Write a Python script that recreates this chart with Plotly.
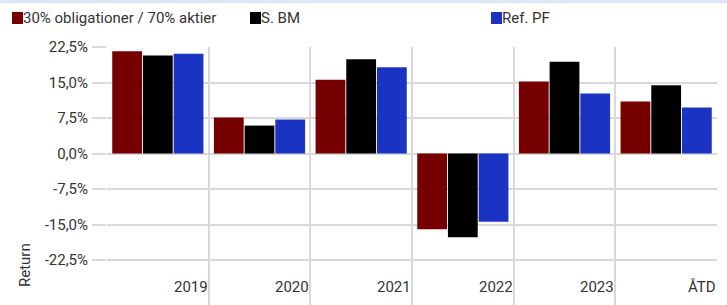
import plotly.graph_objects as go

categories = ["2019", "2020", "2021", "2022", "2023", "ÅTD"]
series_names = ["30% obligationer / 70% aktier", "S. BM", "Ref. PF"]
mix_30_70 = [21.6, 7.6, 15.6, -16.0, 15.2, 11.0]
s_bm = [20.7, 5.9, 19.9, -17.7, 19.4, 14.4]
ref_pf = [21.1, 7.2, 18.2, -14.4, 12.7, 9.7]
series_values = [mix_30_70, s_bm, ref_pf]
colors = ["#760000", "#000000", "#1a33c2"]
y_ticks = [22.5, 15.0, 7.5, 0.0, -7.5, -15.0, -22.5]
y_tick_labels = ["22,5%", "15,0%", "7,5%", "0,0%", "-7,5%", "-15,0%", "-22,5%"]

FONT = "Roboto, DejaVu Sans Condensed, sans-serif"
FS = 15
TXT = "#333333"
GRID = "#d9d9d9"

W, H = 727, 305
L, R, T, B = 107, 10, 47, 0
pw = W - L - R
ph = H - T - B


def py(pix):
    """pixel row (from top of page) -> paper y"""
    return (H - B - pix) / ph


def px(pix):
    """pixel column -> paper x"""
    return (pix - L) / pw


xs = list(range(len(categories)))
fig = go.Figure()
for name, vals, col in zip(series_names, series_values, colors):
    fig.add_trace(go.Bar(x=xs, y=vals, name=name, marker=dict(color=col, line=dict(width=0)),
                         showlegend=False, hoverinfo="skip"))

px_per = (260 - 47) / 45.0
y_top = 22.5
y_bot = y_top - ph / px_per

fig.update_layout(
    width=W, height=H,
    margin=dict(l=L, r=R, t=T, b=B, pad=0),
    paper_bgcolor="white", plot_bgcolor="white",
    barmode="group", bargap=0.094, bargroupgap=0.03,
    font=dict(family=FONT, size=FS, color=TXT),
    xaxis=dict(range=[-0.5, len(categories) - 0.5], tickmode="array",
               tickvals=[i - 0.5 for i in range(len(categories) + 1)],
               showticklabels=False, showgrid=True, gridcolor=GRID, gridwidth=2,
               zeroline=False, showline=False, ticks=""),
    yaxis=dict(range=[y_bot, y_top], tickmode="array", tickvals=y_ticks, ticktext=y_tick_labels,
               showgrid=True, gridcolor=GRID, gridwidth=2, zeroline=False, showline=False,
               ticks="outside", ticklen=14, tickwidth=2, tickcolor=GRID,
               tickfont=dict(family=FONT, size=FS, color=TXT), ticklabelstandoff=1),
)

# category labels, right-aligned at the right edge of each category
for i, c in enumerate(categories):
    fig.add_annotation(x=i + 0.5, xref="x", y=py(287), yref="paper", text=c, showarrow=False,
                       xanchor="right", yanchor="middle", xshift=1,
                       font=dict(family=FONT, size=FS, color=TXT))

# y axis title
fig.add_annotation(x=px(25), xref="paper", y=py(265), yref="paper", text="Return",
                   textangle=-90, showarrow=False, xanchor="center", yanchor="middle",
                   font=dict(family=FONT, size=FS, color=TXT))

# top band
fig.add_shape(type="rect", xref="paper", yref="paper",
              x0=px(0), x1=px(W), y0=py(3), y1=py(-2),
              fillcolor="#dce7f7", line=dict(width=0), layer="above")

# legend drawn manually
leg_x = [12, 250, 491]
for name, col, lx in zip(series_names, colors, leg_x):
    fig.add_shape(type="rect", xref="paper", yref="paper",
                  x0=px(lx), x1=px(lx + 11),
                  y0=py(24), y1=py(12),
                  fillcolor=col, line=dict(width=0))
    fig.add_annotation(x=px(lx + 11), xref="paper", y=py(18), yref="paper",
                       text=name, showarrow=False, xanchor="left", yanchor="middle", xshift=-2,
                       font=dict(family=FONT, size=FS, color=TXT))

fig.write_html("out.html", config={"displayModeBar": False},
               post_script="document.body.style.margin='0';document.body.style.overflow='hidden';")
